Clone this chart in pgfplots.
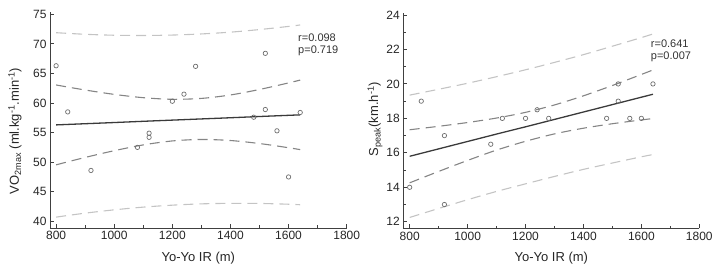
\documentclass[border=0pt]{standalone}
\usepackage{fontspec}
\setmainfont{Liberation Sans}
\usepackage{pgfplots}
\usepackage{pgfplotstable}
\pgfplotsset{compat=1.18}

\definecolor{fitc}{HTML}{3A3A3A}
\definecolor{cic}{HTML}{858585}
\definecolor{pic}{HTML}{C4C4C4}
\definecolor{ptc}{HTML}{6E6E6E}
\definecolor{axc}{HTML}{404040}

\pgfplotstableread{
x fit ciu cil piu pil
800 56.30 63.05 49.55 71.89 40.71
900 56.50 62.20 50.80 71.62 41.38
1000 56.70 61.46 51.94 71.46 41.94
1100 56.91 60.90 52.92 71.42 42.40
1200 57.11 60.63 53.59 71.49 42.73
1300 57.31 60.78 53.84 71.68 42.95
1400 57.51 61.36 53.66 71.98 43.04
1500 57.72 62.29 53.15 72.42 43.02
1600 57.92 63.40 52.44 72.95 42.89
1640 58.00 63.88 52.12 73.20 42.80
}\leftbands

\pgfplotstableread{
x fit ciu cil piu pil
800 15.80 17.34 14.26 19.35 12.25
900 16.23 17.54 14.92 19.69 12.77
1000 16.66 17.76 15.56 20.04 13.28
1100 17.09 18.02 16.16 20.42 13.76
1200 17.51 18.35 16.67 20.82 14.20
1300 17.94 18.78 17.10 21.25 14.63
1400 18.37 19.31 17.43 21.70 15.04
1500 18.80 19.91 17.69 22.19 15.41
1600 19.23 20.55 17.91 22.69 15.77
1640 19.40 20.81 17.99 22.90 15.90
}\rightbands

\pgfplotstableread{
x y
800 66.3
840 58.5
920 48.6
1080 52.5
1120 54.9
1120 54.2
1200 60.3
1240 61.5
1280 66.2
1480 57.6
1520 68.4
1520 58.9
1560 55.3
1600 47.5
1640 58.4
}\leftpts

\pgfplotstableread{
x y
800 14
840 19
920 17
920 13
1080 16.5
1120 18
1200 18
1240 18.5
1280 18
1480 18
1520 20
1520 19
1560 18
1600 18
1640 20
}\rightpts

\pgfplotsset{
  myax/.style={
    scale only axis,
    axis x line*=bottom, axis y line*=left,
    xmin=779, xmax=1800,
    xtick={800,1000,...,1800},
    minor x tick num=1,
    tick align=inside,
    major tick length=4pt, minor tick length=2.5pt,
    axis line style={draw=axc, line width=0.9pt},
    every tick/.style={draw=axc, line width=0.9pt},
    tick label style={font=\fontsize{12}{14}\selectfont, text=black!85},
    label style={font=\fontsize{13}{15}\selectfont, text=black!85},
    /pgf/number format/assume math mode=true,
    /pgf/number format/1000 sep={},
    xlabel={Yo-Yo IR (m)},
    x label style={anchor=center, at={(axis description cs:0.5,-0.139)}},
    clip=false,
  },
  ci/.style={draw=cic, line width=1.1pt, dash pattern=on 10pt off 6pt, smooth, no marks},
  pi/.style={draw=pic, line width=1.1pt, dash pattern=on 10pt off 6pt, smooth, no marks},
  fitl/.style={draw=fitc, line width=1.3pt, no marks},
  pts/.style={only marks, mark=o, mark size=2.2pt, mark options={draw=ptc, line width=0.7pt}},
}

\begin{document}
\begin{tikzpicture}
\useasboundingbox (0,0) rectangle (721pt,272pt);
\begin{axis}[myax,
  at={(50pt,44pt)}, anchor=south west,
  width=296.7pt, height=216pt,
  ymin=38.87, ymax=75.39,
  ytick={40,45,...,75},
  ylabel={VO\textsubscript{2max} (ml.kg\textsuperscript{-1}.min\textsuperscript{-1})},
  y label style={anchor=center, at={(axis description cs:-0.118,0.449)}},
]
\addplot[pi] table[x=x,y=piu] {\leftbands};
\addplot[pi] table[x=x,y=pil] {\leftbands};
\addplot[ci] table[x=x,y=ciu] {\leftbands};
\addplot[ci] table[x=x,y=cil] {\leftbands};
\addplot[fitl] table[x=x,y=fit] {\leftbands};
\addplot[pts] table[x=x,y=y] {\leftpts};
\node[anchor=west, align=left, font=\fontsize{11}{12}\selectfont, text=black!80, inner sep=0pt] at (axis description cs:0.836,0.85) {r=0.098\\p=0.719};
\end{axis}

\begin{axis}[myax,
  at={(403.3pt,43.7pt)}, anchor=south west,
  width=296pt, height=215pt,
  xmin=778,
  ymin=11.62, ymax=24.1,
  ytick={12,14,...,24},
  minor y tick num=1,
  ylabel={S\textsubscript{peak}(km.h\textsuperscript{-1})},
  y label style={anchor=center, at={(axis description cs:-0.0956,0.508)}},
]
\addplot[pi] table[x=x,y=piu] {\rightbands};
\addplot[pi] table[x=x,y=pil] {\rightbands};
\addplot[ci] table[x=x,y=ciu] {\rightbands};
\addplot[ci] table[x=x,y=cil] {\rightbands};
\addplot[fitl] table[x=x,y=fit] {\rightbands};
\addplot[pts] table[x=x,y=y] {\rightpts};
\node[anchor=west, align=left, font=\fontsize{11}{12}\selectfont, text=black!80, inner sep=0pt] at (axis description cs:0.836,0.826) {r=0.641\\p=0.007};
\end{axis}
\end{tikzpicture}
\end{document}
